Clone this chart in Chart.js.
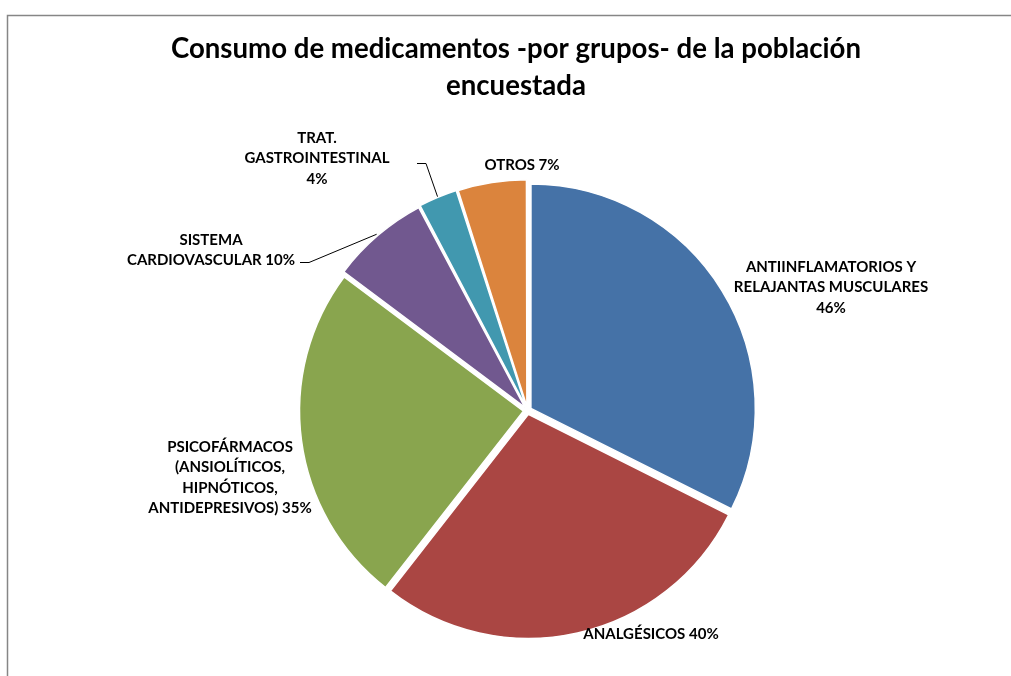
<!DOCTYPE html>
<html lang="es">
<head>
<meta charset="utf-8">
<title>Consumo de medicamentos por grupos</title>
<script src="https://cdn.jsdelivr.net/npm/chart.js@4.4.1/dist/chart.umd.min.js"></script>
<style>
  html, body { margin: 0; padding: 0; background: #fff; }
  canvas { display: block; }
</style>
</head>
<body>
<canvas id="grafico" width="1011" height="676"></canvas>
<script>
// datos
var categorias = [
    "ANTIINFLAMATORIOS Y RELAJANTAS MUSCULARES",
    "ANALGÉSICOS",
    "PSICOFÁRMACOS (ANSIOLÍTICOS, HIPNÓTICOS, ANTIDEPRESIVOS)",
    "SISTEMA CARDIOVASCULAR",
    "TRAT. GASTROINTESTINAL",
    "OTROS"
];
var porcentajes = [46, 40, 35, 10, 4, 7];
var titulo = ["Consumo de medicamentos -por grupos- de la población", "encuestada"];

// como se parte cada etiqueta en lineas ({p} = porcentaje)
var lineasEtiqueta = [
    ["ANTIINFLAMATORIOS Y", "RELAJANTAS MUSCULARES", "{p}"],
    ["ANALGÉSICOS {p}"],
    ["PSICOFÁRMACOS", "(ANSIOLÍTICOS,", "HIPNÓTICOS,", "ANTIDEPRESIVOS) {p}"],
    ["SISTEMA", "CARDIOVASCULAR {p}"],
    ["TRAT.", "GASTROINTESTINAL", "{p}"],
    ["OTROS {p}"]
];

var colores = ["#4572A7", "#AA4643", "#89A54E", "#71588F", "#4198AF", "#DB843D"];

// posicion de las etiquetas (centro x, y de la primera linea) y linea guia
var posEtiqueta = [
    {x: 831, y: 267},
    {x: 651, y: 634},
    {x: 230, y: 447},
    {x: 211, y: 240, guia: [300, 262]},
    {x: 317, y: 138, guia: [417, 163]},
    {x: 522, y: 165}
];

var marco = {
    id: 'marco',
    beforeDraw: function(chart) {
        var ctx = chart.ctx;
        ctx.save();
        ctx.fillStyle = '#fff';
        ctx.fillRect(0, 0, chart.width, chart.height);
        ctx.strokeStyle = '#868686';
        ctx.lineWidth = 1.5;
        ctx.beginPath();
        ctx.moveTo(7.5, chart.height);
        ctx.lineTo(7.5, 15.5);
        ctx.lineTo(chart.width, 15.5);
        ctx.stroke();
        ctx.restore();
    }
};

var etiquetas = {
    id: 'etiquetas',
    afterDraw: function(chart) {
        var ctx = chart.ctx;
        var arcos = chart.getDatasetMeta(0).data;
        ctx.save();

        // titulo
        ctx.fillStyle = '#000';
        ctx.textAlign = 'center';
        ctx.textBaseline = 'alphabetic';
        ctx.font = 'bold 27.6px Lato';
        ctx.fillText(titulo[0], 516, 58);
        ctx.fillText(titulo[1], 516, 95);

        ctx.font = 'bold 15px Lato';
        ctx.textBaseline = 'middle';
        lineasEtiqueta.forEach(function(lineas, i) {
            var p = posEtiqueta[i];
            lineas.forEach(function(t, j) {
                ctx.fillText(t.replace('{p}', porcentajes[i] + '%'), p.x, p.y + j * 20.5);
            });
            if (p.guia) {
                var a = arcos[i];
                var medio = (a.startAngle + a.endAngle) / 2;
                var r = a.outerRadius + 8;
                ctx.strokeStyle = '#000';
                ctx.lineWidth = 1;
                ctx.beginPath();
                ctx.moveTo(p.guia[0], p.guia[1] + 0.5);
                ctx.lineTo(p.guia[0] + 9, p.guia[1] + 0.5);
                ctx.lineTo(a.x + Math.cos(medio) * r, a.y + Math.sin(medio) * r);
                ctx.stroke();
            }
        });
        ctx.restore();
    }
};

var ctx = document.getElementById('grafico').getContext('2d');
var chart = new Chart(ctx, {
    type: 'pie',
    data: {
        labels: categorias,
        datasets: [{
            data: porcentajes,
            backgroundColor: colores,
            borderColor: '#fff',
            borderWidth: 1.5,
            offset: 16,
            radius: 224
        }]
    },
    options: {
        responsive: false,
        animation: false,
        layout: { padding: { left: 60, right: 16, top: 182, bottom: 37 } },
        plugins: {
            legend: { display: false },
            tooltip: { enabled: false },
            title: { display: false }
        }
    },
    plugins: [marco, etiquetas]
});
</script>
</body>
</html>
